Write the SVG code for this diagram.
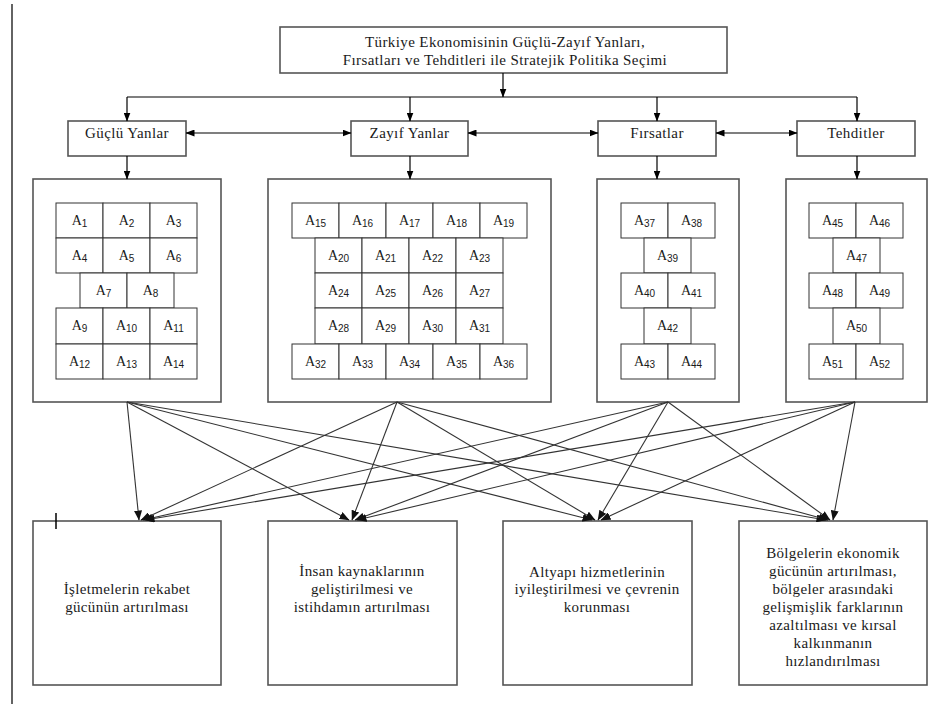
<svg xmlns="http://www.w3.org/2000/svg" width="938" height="706" viewBox="0 0 938 706" font-family="Liberation Serif, serif">
<defs>
<marker id="ah" markerUnits="userSpaceOnUse" markerWidth="9" markerHeight="7" refX="8.5" refY="3.5" orient="auto-start-reverse">
<path d="M0,0 L9,3.5 L0,7 z" fill="#000"/>
</marker>
<marker id="ah2" markerUnits="userSpaceOnUse" markerWidth="10" markerHeight="8" refX="9.5" refY="4" orient="auto">
<path d="M0,0 L10,4 L0,8 z" fill="#111"/>
</marker>
</defs>
<style>
.box{fill:#fff;stroke:#555;stroke-width:1.6}
.cell{fill:#fff;stroke:#333;stroke-width:1}
text{fill:#1a1a1a;text-anchor:middle}
.t{font-size:15px;letter-spacing:0.4px}
.b{font-size:15px;letter-spacing:0.35px}
.a{font-size:14px}
.s{font-size:10px}
.c{stroke:#000;stroke-width:1.2;fill:none}
.d{stroke:#333;stroke-width:1.1;fill:none;marker-end:url(#ah2)}
</style>
<rect width="938" height="706" fill="#fff"/>
<line x1="12" y1="4" x2="12" y2="704" stroke="#222" stroke-width="1.4"/>

<g id="title" font-family="Liberation Serif, serif">
<rect class="box" x="280" y="27" width="447" height="46"/>
<text class="t" x="505" y="47">Türkiye Ekonomisinin Güçlü-Zayıf Yanları,</text>
<text class="t" x="505" y="64.5">Fırsatları ve Tehditleri ile Stratejik Politika Seçimi</text>
</g>

<g id="guclu" font-family="Liberation Serif, serif">
<rect class="box" x="68" y="121" width="118" height="35"/>
<text class="t" x="127" y="138">Güçlü Yanlar</text>
</g>
<g id="zayif" font-family="Liberation Serif, serif">
<rect class="box" x="351" y="121" width="117" height="35"/>
<text class="t" x="409.5" y="138">Zayıf Yanlar</text>
</g>
<g id="firsatlar" font-family="Liberation Serif, serif">
<rect class="box" x="598" y="121" width="118" height="35"/>
<text class="t" x="657" y="138">Fırsatlar</text>
</g>
<g id="tehditler" font-family="Liberation Serif, serif">
<rect class="box" x="797" y="121" width="118" height="35"/>
<text class="t" x="856" y="138">Tehditler</text>
</g>

<g id="grid1" font-family="Liberation Serif, serif">
<rect class="box" x="33" y="179" width="188" height="223"/>
<g id="A1"><rect class="cell" x="56" y="203" width="47" height="35"/><text class="a" x="79.5" y="225">A<tspan class="s" dy="2" font-family="Liberation Sans, sans-serif">1</tspan></text></g>
<g id="A2"><rect class="cell" x="103" y="203" width="47" height="35"/><text class="a" x="126.5" y="225">A<tspan class="s" dy="2" font-family="Liberation Sans, sans-serif">2</tspan></text></g>
<g id="A3"><rect class="cell" x="150" y="203" width="47" height="35"/><text class="a" x="173.5" y="225">A<tspan class="s" dy="2" font-family="Liberation Sans, sans-serif">3</tspan></text></g>
<g id="A4"><rect class="cell" x="56" y="238" width="47" height="35"/><text class="a" x="79.5" y="260">A<tspan class="s" dy="2" font-family="Liberation Sans, sans-serif">4</tspan></text></g>
<g id="A5"><rect class="cell" x="103" y="238" width="47" height="35"/><text class="a" x="126.5" y="260">A<tspan class="s" dy="2" font-family="Liberation Sans, sans-serif">5</tspan></text></g>
<g id="A6"><rect class="cell" x="150" y="238" width="47" height="35"/><text class="a" x="173.5" y="260">A<tspan class="s" dy="2" font-family="Liberation Sans, sans-serif">6</tspan></text></g>
<g id="A7"><rect class="cell" x="80" y="273" width="47" height="35"/><text class="a" x="103.5" y="295">A<tspan class="s" dy="2" font-family="Liberation Sans, sans-serif">7</tspan></text></g>
<g id="A8"><rect class="cell" x="127" y="273" width="47" height="35"/><text class="a" x="150.5" y="295">A<tspan class="s" dy="2" font-family="Liberation Sans, sans-serif">8</tspan></text></g>
<g id="A9"><rect class="cell" x="56" y="308" width="47" height="36"/><text class="a" x="79.5" y="330">A<tspan class="s" dy="2" font-family="Liberation Sans, sans-serif">9</tspan></text></g>
<g id="A10"><rect class="cell" x="103" y="308" width="47" height="36"/><text class="a" x="126.5" y="330">A<tspan class="s" dy="2" font-family="Liberation Sans, sans-serif">10</tspan></text></g>
<g id="A11"><rect class="cell" x="150" y="308" width="47" height="36"/><text class="a" x="173.5" y="330">A<tspan class="s" dy="2" font-family="Liberation Sans, sans-serif">11</tspan></text></g>
<g id="A12"><rect class="cell" x="56" y="344" width="47" height="35"/><text class="a" x="79.5" y="366">A<tspan class="s" dy="2" font-family="Liberation Sans, sans-serif">12</tspan></text></g>
<g id="A13"><rect class="cell" x="103" y="344" width="47" height="35"/><text class="a" x="126.5" y="366">A<tspan class="s" dy="2" font-family="Liberation Sans, sans-serif">13</tspan></text></g>
<g id="A14"><rect class="cell" x="150" y="344" width="47" height="35"/><text class="a" x="173.5" y="366">A<tspan class="s" dy="2" font-family="Liberation Sans, sans-serif">14</tspan></text></g>
</g>

<g id="grid2" font-family="Liberation Serif, serif">
<rect class="box" x="268" y="179" width="283" height="223"/>
<g id="A15"><rect class="cell" x="292" y="203" width="47" height="35"/><text class="a" x="315.5" y="225">A<tspan class="s" dy="2" font-family="Liberation Sans, sans-serif">15</tspan></text></g>
<g id="A16"><rect class="cell" x="339" y="203" width="47" height="35"/><text class="a" x="362.5" y="225">A<tspan class="s" dy="2" font-family="Liberation Sans, sans-serif">16</tspan></text></g>
<g id="A17"><rect class="cell" x="386" y="203" width="47" height="35"/><text class="a" x="409.5" y="225">A<tspan class="s" dy="2" font-family="Liberation Sans, sans-serif">17</tspan></text></g>
<g id="A18"><rect class="cell" x="433" y="203" width="47" height="35"/><text class="a" x="456.5" y="225">A<tspan class="s" dy="2" font-family="Liberation Sans, sans-serif">18</tspan></text></g>
<g id="A19"><rect class="cell" x="480" y="203" width="47" height="35"/><text class="a" x="503.5" y="225">A<tspan class="s" dy="2" font-family="Liberation Sans, sans-serif">19</tspan></text></g>
<g id="A20"><rect class="cell" x="315" y="238" width="47" height="35"/><text class="a" x="338.5" y="260">A<tspan class="s" dy="2" font-family="Liberation Sans, sans-serif">20</tspan></text></g>
<g id="A21"><rect class="cell" x="362" y="238" width="47" height="35"/><text class="a" x="385.5" y="260">A<tspan class="s" dy="2" font-family="Liberation Sans, sans-serif">21</tspan></text></g>
<g id="A22"><rect class="cell" x="409" y="238" width="47" height="35"/><text class="a" x="432.5" y="260">A<tspan class="s" dy="2" font-family="Liberation Sans, sans-serif">22</tspan></text></g>
<g id="A23"><rect class="cell" x="456" y="238" width="47" height="35"/><text class="a" x="479.5" y="260">A<tspan class="s" dy="2" font-family="Liberation Sans, sans-serif">23</tspan></text></g>
<g id="A24"><rect class="cell" x="315" y="273" width="47" height="35"/><text class="a" x="338.5" y="295">A<tspan class="s" dy="2" font-family="Liberation Sans, sans-serif">24</tspan></text></g>
<g id="A25"><rect class="cell" x="362" y="273" width="47" height="35"/><text class="a" x="385.5" y="295">A<tspan class="s" dy="2" font-family="Liberation Sans, sans-serif">25</tspan></text></g>
<g id="A26"><rect class="cell" x="409" y="273" width="47" height="35"/><text class="a" x="432.5" y="295">A<tspan class="s" dy="2" font-family="Liberation Sans, sans-serif">26</tspan></text></g>
<g id="A27"><rect class="cell" x="456" y="273" width="47" height="35"/><text class="a" x="479.5" y="295">A<tspan class="s" dy="2" font-family="Liberation Sans, sans-serif">27</tspan></text></g>
<g id="A28"><rect class="cell" x="315" y="308" width="47" height="36"/><text class="a" x="338.5" y="330">A<tspan class="s" dy="2" font-family="Liberation Sans, sans-serif">28</tspan></text></g>
<g id="A29"><rect class="cell" x="362" y="308" width="47" height="36"/><text class="a" x="385.5" y="330">A<tspan class="s" dy="2" font-family="Liberation Sans, sans-serif">29</tspan></text></g>
<g id="A30"><rect class="cell" x="409" y="308" width="47" height="36"/><text class="a" x="432.5" y="330">A<tspan class="s" dy="2" font-family="Liberation Sans, sans-serif">30</tspan></text></g>
<g id="A31"><rect class="cell" x="456" y="308" width="47" height="36"/><text class="a" x="479.5" y="330">A<tspan class="s" dy="2" font-family="Liberation Sans, sans-serif">31</tspan></text></g>
<g id="A32"><rect class="cell" x="292" y="344" width="47" height="35"/><text class="a" x="315.5" y="366">A<tspan class="s" dy="2" font-family="Liberation Sans, sans-serif">32</tspan></text></g>
<g id="A33"><rect class="cell" x="339" y="344" width="47" height="35"/><text class="a" x="362.5" y="366">A<tspan class="s" dy="2" font-family="Liberation Sans, sans-serif">33</tspan></text></g>
<g id="A34"><rect class="cell" x="386" y="344" width="47" height="35"/><text class="a" x="409.5" y="366">A<tspan class="s" dy="2" font-family="Liberation Sans, sans-serif">34</tspan></text></g>
<g id="A35"><rect class="cell" x="433" y="344" width="47" height="35"/><text class="a" x="456.5" y="366">A<tspan class="s" dy="2" font-family="Liberation Sans, sans-serif">35</tspan></text></g>
<g id="A36"><rect class="cell" x="480" y="344" width="47" height="35"/><text class="a" x="503.5" y="366">A<tspan class="s" dy="2" font-family="Liberation Sans, sans-serif">36</tspan></text></g>
</g>

<g id="grid3" font-family="Liberation Serif, serif">
<rect class="box" x="597" y="179" width="142" height="223"/>
<g id="A37"><rect class="cell" x="621" y="203" width="47" height="35"/><text class="a" x="644.5" y="225">A<tspan class="s" dy="2" font-family="Liberation Sans, sans-serif">37</tspan></text></g>
<g id="A38"><rect class="cell" x="668" y="203" width="47" height="35"/><text class="a" x="691.5" y="225">A<tspan class="s" dy="2" font-family="Liberation Sans, sans-serif">38</tspan></text></g>
<g id="A39"><rect class="cell" x="644" y="238" width="47" height="35"/><text class="a" x="667.5" y="260">A<tspan class="s" dy="2" font-family="Liberation Sans, sans-serif">39</tspan></text></g>
<g id="A40"><rect class="cell" x="621" y="273" width="47" height="35"/><text class="a" x="644.5" y="295">A<tspan class="s" dy="2" font-family="Liberation Sans, sans-serif">40</tspan></text></g>
<g id="A41"><rect class="cell" x="668" y="273" width="47" height="35"/><text class="a" x="691.5" y="295">A<tspan class="s" dy="2" font-family="Liberation Sans, sans-serif">41</tspan></text></g>
<g id="A42"><rect class="cell" x="644" y="308" width="47" height="36"/><text class="a" x="667.5" y="330">A<tspan class="s" dy="2" font-family="Liberation Sans, sans-serif">42</tspan></text></g>
<g id="A43"><rect class="cell" x="621" y="344" width="47" height="35"/><text class="a" x="644.5" y="366">A<tspan class="s" dy="2" font-family="Liberation Sans, sans-serif">43</tspan></text></g>
<g id="A44"><rect class="cell" x="668" y="344" width="47" height="35"/><text class="a" x="691.5" y="366">A<tspan class="s" dy="2" font-family="Liberation Sans, sans-serif">44</tspan></text></g>
</g>

<g id="grid4" font-family="Liberation Serif, serif">
<rect class="box" x="786" y="179" width="141" height="223"/>
<g id="A45"><rect class="cell" x="809" y="203" width="47" height="35"/><text class="a" x="832.5" y="225">A<tspan class="s" dy="2" font-family="Liberation Sans, sans-serif">45</tspan></text></g>
<g id="A46"><rect class="cell" x="856" y="203" width="47" height="35"/><text class="a" x="879.5" y="225">A<tspan class="s" dy="2" font-family="Liberation Sans, sans-serif">46</tspan></text></g>
<g id="A47"><rect class="cell" x="833" y="238" width="47" height="35"/><text class="a" x="856.5" y="260">A<tspan class="s" dy="2" font-family="Liberation Sans, sans-serif">47</tspan></text></g>
<g id="A48"><rect class="cell" x="809" y="273" width="47" height="35"/><text class="a" x="832.5" y="295">A<tspan class="s" dy="2" font-family="Liberation Sans, sans-serif">48</tspan></text></g>
<g id="A49"><rect class="cell" x="856" y="273" width="47" height="35"/><text class="a" x="879.5" y="295">A<tspan class="s" dy="2" font-family="Liberation Sans, sans-serif">49</tspan></text></g>
<g id="A50"><rect class="cell" x="833" y="308" width="47" height="36"/><text class="a" x="856.5" y="330">A<tspan class="s" dy="2" font-family="Liberation Sans, sans-serif">50</tspan></text></g>
<g id="A51"><rect class="cell" x="809" y="344" width="47" height="35"/><text class="a" x="832.5" y="366">A<tspan class="s" dy="2" font-family="Liberation Sans, sans-serif">51</tspan></text></g>
<g id="A52"><rect class="cell" x="856" y="344" width="47" height="35"/><text class="a" x="879.5" y="366">A<tspan class="s" dy="2" font-family="Liberation Sans, sans-serif">52</tspan></text></g>
</g>

<g id="goal1" font-family="Liberation Serif, serif">
<rect class="box" x="33" y="521" width="188" height="164"/>
<text class="b" x="127" y="594">İşletmelerin rekabet</text>
<text class="b" x="127" y="612">gücünün artırılması</text>
</g>
<g id="goal2" font-family="Liberation Serif, serif">
<rect class="box" x="268" y="521" width="189" height="164"/>
<text class="b" x="362" y="576">İnsan kaynaklarının</text>
<text class="b" x="362" y="594">geliştirilmesi ve</text>
<text class="b" x="362" y="612">istihdamın artırılması</text>
</g>
<g id="goal3" font-family="Liberation Serif, serif">
<rect class="box" x="503" y="521" width="189" height="164"/>
<text class="b" x="597" y="577">Altyapı hizmetlerinin</text>
<text class="b" x="597" y="594">iyileştirilmesi ve çevrenin</text>
<text class="b" x="597" y="612">korunması</text>
</g>
<g id="goal4" font-family="Liberation Serif, serif">
<rect class="box" x="739" y="521" width="188" height="164"/>
<text class="b" x="833" y="558">Bölgelerin ekonomik</text>
<text class="b" x="833" y="576">gücünün artırılması,</text>
<text class="b" x="833" y="594">bölgeler arasındaki</text>
<text class="b" x="833" y="612">gelişmişlik farklarının</text>
<text class="b" x="833" y="630">azaltılması ve kırsal</text>
<text class="b" x="833" y="648">kalkınmanın</text>
<text class="b" x="833" y="666">hızlandırılması</text>
</g>

<line x1="56" y1="513" x2="56" y2="529" stroke="#000" stroke-width="1.5"/>

<g id="connectors">
<line class="c" x1="503" y1="73" x2="503" y2="97" marker-end="url(#ah)"/>
<line class="c" x1="127" y1="97" x2="857" y2="97"/>
<line class="c" x1="127" y1="97" x2="127" y2="121" marker-end="url(#ah)"/>
<line class="c" x1="410" y1="97" x2="410" y2="121" marker-end="url(#ah)"/>
<line class="c" x1="657" y1="97" x2="657" y2="121" marker-end="url(#ah)"/>
<line class="c" x1="857" y1="97" x2="857" y2="121" marker-end="url(#ah)"/>
<line class="c" x1="186" y1="133" x2="351" y2="133" marker-start="url(#ah)" marker-end="url(#ah)"/>
<line class="c" x1="468" y1="133" x2="598" y2="133" marker-start="url(#ah)" marker-end="url(#ah)"/>
<line class="c" x1="716" y1="133" x2="797" y2="133" marker-start="url(#ah)" marker-end="url(#ah)"/>
<line class="c" x1="127" y1="156" x2="127" y2="179" marker-end="url(#ah)"/>
<line class="c" x1="410" y1="156" x2="410" y2="179" marker-end="url(#ah)"/>
<line class="c" x1="657" y1="156" x2="657" y2="179" marker-end="url(#ah)"/>
<line class="c" x1="857" y1="156" x2="857" y2="179" marker-end="url(#ah)"/>

<line class="d" x1="127" y1="402" x2="139" y2="520"/>
<line class="d" x1="127" y1="402" x2="349" y2="520"/>
<line class="d" x1="127" y1="402" x2="592" y2="520"/>
<line class="d" x1="127" y1="402" x2="826" y2="520"/>
<line class="d" x1="397" y1="402" x2="141" y2="520"/>
<line class="d" x1="397" y1="402" x2="352" y2="520"/>
<line class="d" x1="397" y1="402" x2="595" y2="520"/>
<line class="d" x1="397" y1="402" x2="828" y2="520"/>
<line class="d" x1="668" y1="402" x2="143" y2="520"/>
<line class="d" x1="668" y1="402" x2="355" y2="520"/>
<line class="d" x1="668" y1="402" x2="598" y2="520"/>
<line class="d" x1="668" y1="402" x2="830" y2="520"/>
<line class="d" x1="855" y1="402" x2="145" y2="520"/>
<line class="d" x1="855" y1="402" x2="357" y2="520"/>
<line class="d" x1="855" y1="402" x2="601" y2="520"/>
<line class="d" x1="855" y1="402" x2="833" y2="520"/>
</g>
</svg>
